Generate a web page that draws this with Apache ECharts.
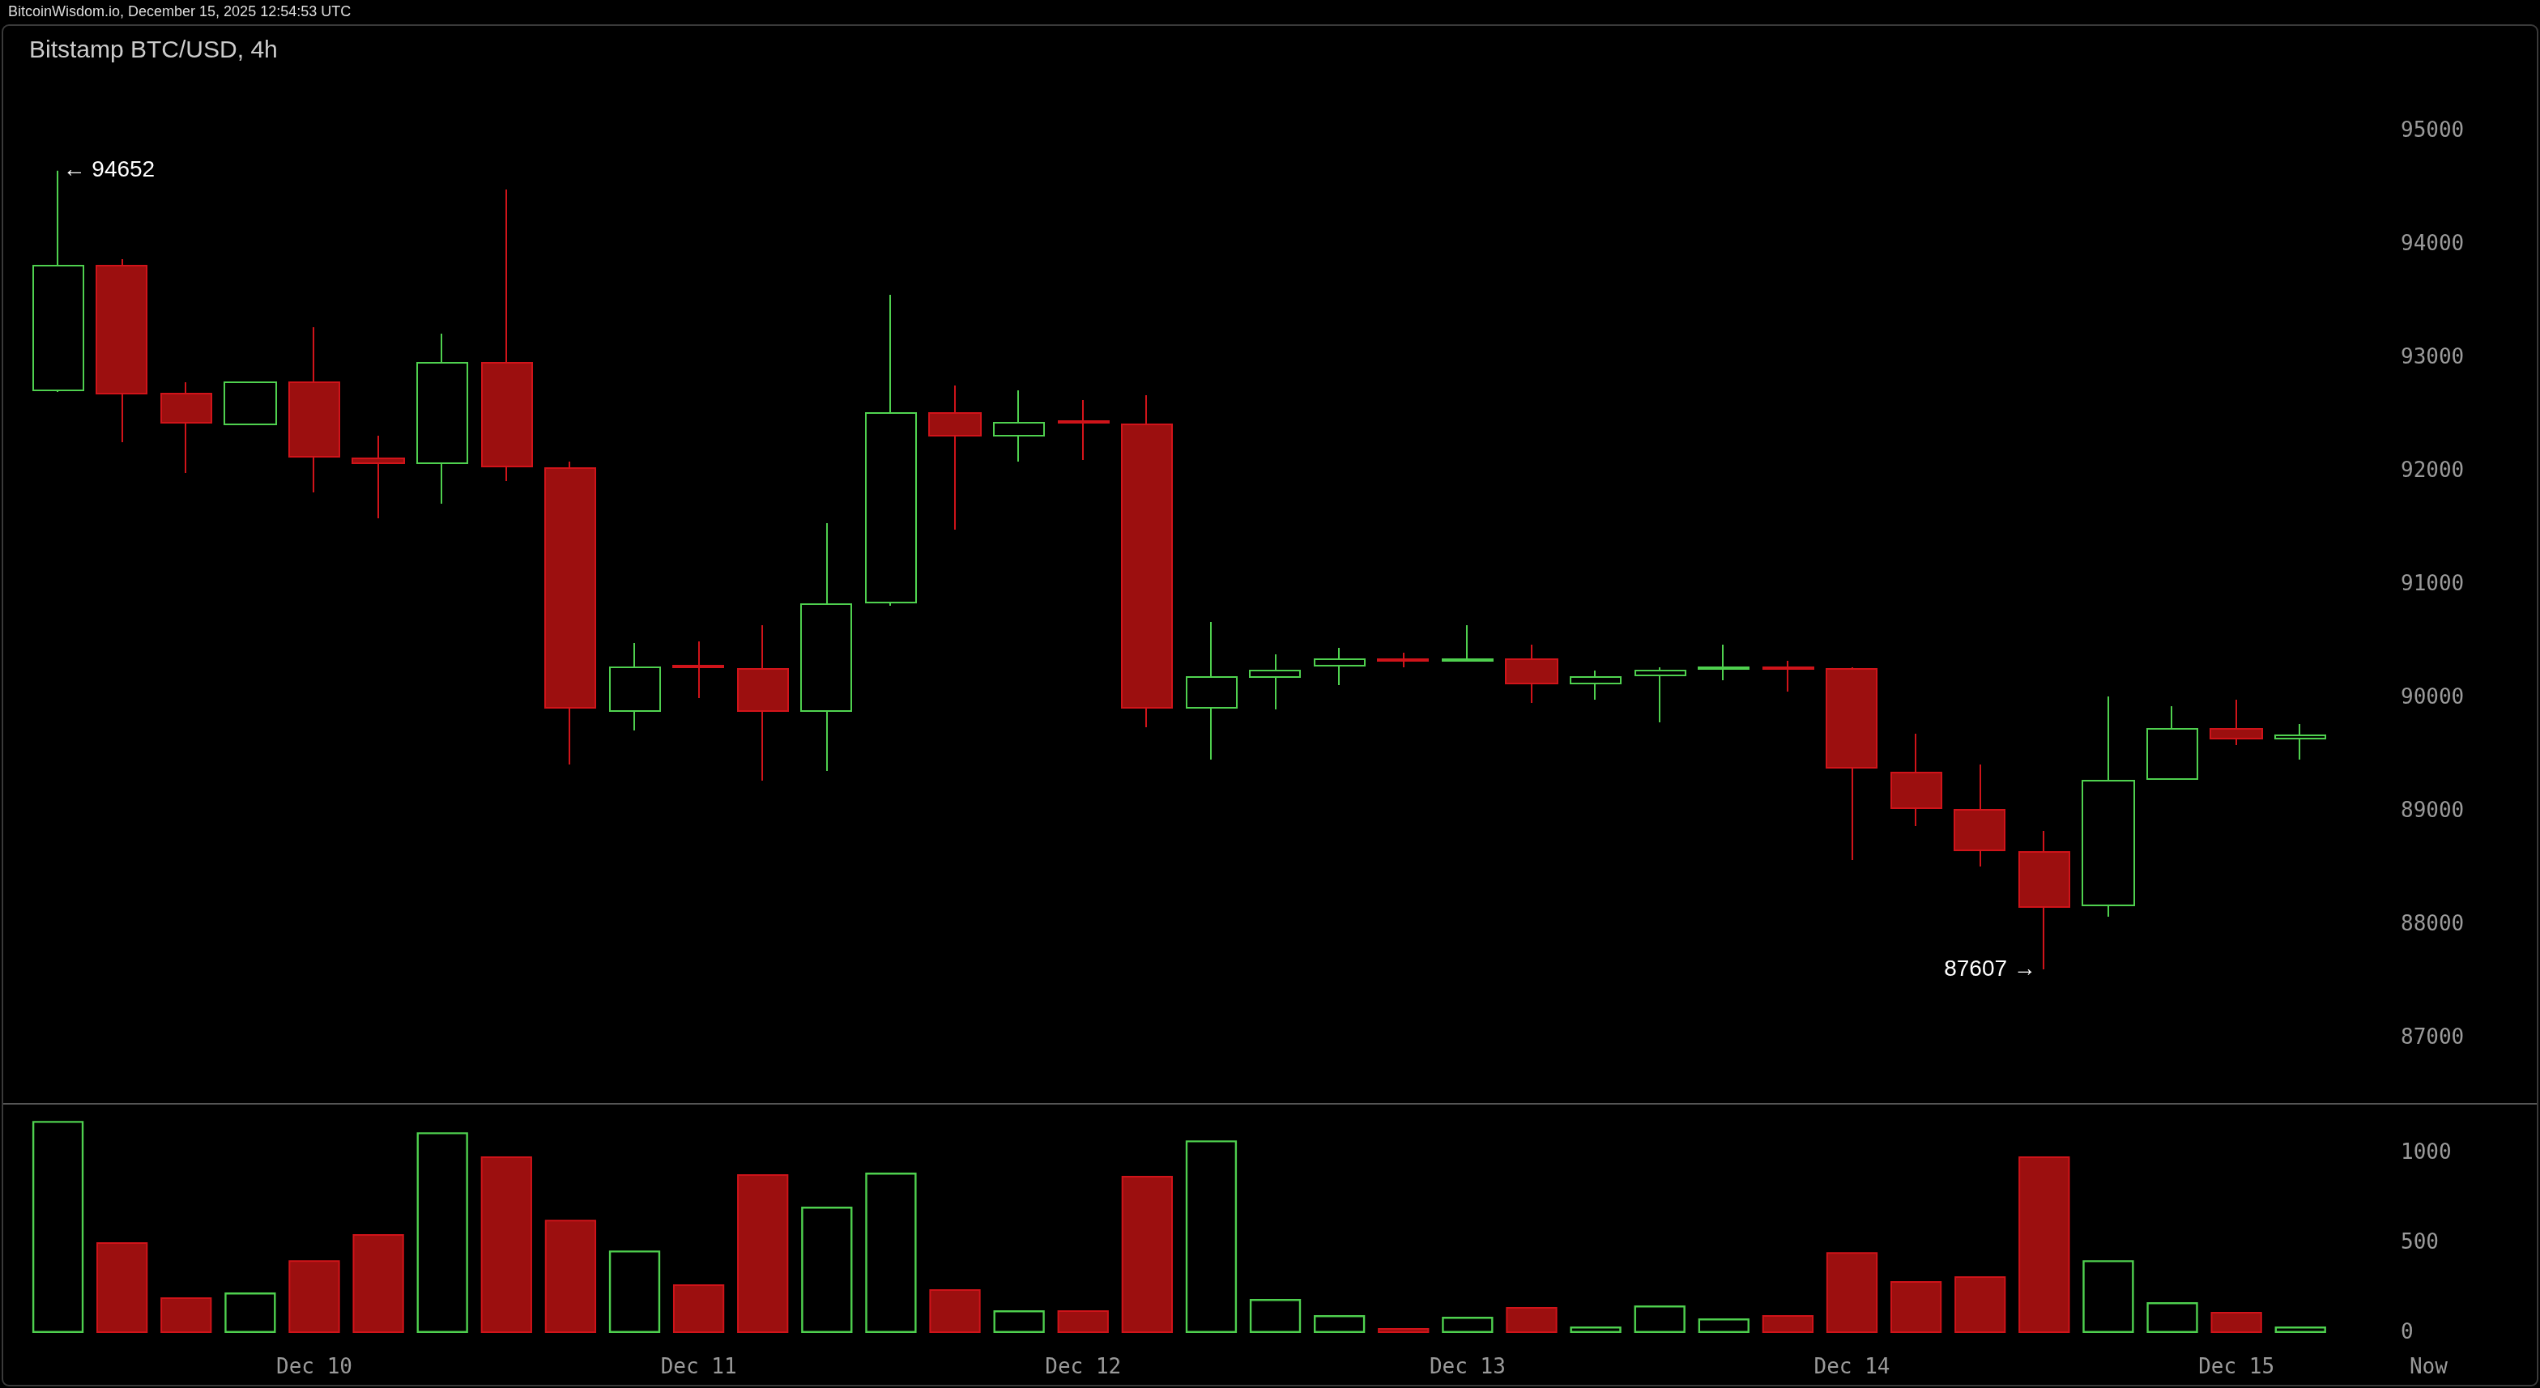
<!DOCTYPE html>
<html><head><meta charset="utf-8">
<script src="https://cdn.jsdelivr.net/npm/echarts@6/dist/echarts.min.js"></script>
<style>html,body{margin:0;background:#000}#wrap{width:2540px;height:1388px;overflow:hidden;position:relative}#c{position:absolute;left:0;top:0;width:1568px;height:857px;transform-origin:0 0}</style>
</head><body><div id="wrap"><div id="c"></div></div>
<script>
// OHLC per 4h candle
const opens  = [92714,93814,92686,92414,92786,92114,92071,92957,92029,89886,90286,90257,89886,90843,92514,92314,92443,92414,89914,90186,90286,90343,90329,90343,90129,90200,90257,90271,90257,89343,89014,88643,88171,89286,89729,89643];
const closes = [93814,92686,92429,92786,92129,92071,92957,92043,89914,90271,90271,89886,90829,92514,92314,92429,92429,89914,90186,90243,90343,90329,90343,90129,90186,90243,90271,90257,89386,89029,88657,88157,89271,89729,89643,89671];
const lows   = [92700,92257,91986,92414,91814,91586,91714,91914,89414,89714,90000,89271,89357,90814,91486,92086,92100,89743,89457,89900,90114,90271,90329,89957,89986,89786,90157,90057,88571,88871,88514,87607,88071,89286,89586,89457];
const highs  = [94652,93871,92786,92786,93271,92314,93214,94486,92086,90486,90500,90643,91543,93557,92757,92714,92629,92671,90671,90386,90443,90400,90643,90471,90243,90271,90471,90329,90271,89686,89414,88829,90014,89929,89986,89771];
const volumes= [1180,505,198,225,405,550,1117,982,630,459,270,883,703,892,243,126,126,874,1072,189,99,27,90,144,36,153,81,99,450,288,315,982,405,171,117,36];
const dayLabels = {4:'Dec 10',10:'Dec 11',16:'Dec 12',22:'Dec 13',28:'Dec 14',34:'Dec 15',37:'Now'};
const priceTicks = [87000,88000,89000,90000,91000,92000,93000,94000,95000];
const volTicks = [0,500,1000];

const N = 38;
const cats = Array.from({length:N},(_,i)=>String(i));
const GREEN='#4fd04f', RED='#9c0f0f', REDB='#d0141a';
const candle = opens.map((o,i)=>{
  const up = closes[i]>=o;
  return {value:[o,closes[i],lows[i],highs[i]], itemStyle: up?{color:'#000',borderColor:GREEN,color0:'#000',borderColor0:GREEN}:{color:RED,borderColor:REDB,color0:RED,borderColor0:REDB}};
});
const vol = volumes.map((v,i)=>{
  const up = closes[i]>opens[i] || (closes[i]===opens[i] && i===22);
  return {value:v,itemStyle: up?{color:'#000',borderColor:GREEN,borderWidth:1.2}:{color:RED,borderColor:REDB,borderWidth:1}};
});
const sx = 2540/1568, sy = 1388/857;
const el = document.getElementById('c');
el.style.transform='scale('+sx+','+sy+')';
const c2 = echarts.init(el,null,{width:1568,height:857,devicePixelRatio:2});
const lbl = {color:'#9a9a9a',fontFamily:'DejaVu Sans Mono',fontSize:13};
c2.setOption({
  backgroundColor:'#000',
  animation:false,
  grid:[{left:16,top:11,width:1503,height:700},{left:16,top:681,width:1503,height:142}],
  xAxis:[
    {type:'category',data:cats,gridIndex:0,axisLine:{show:false},axisTick:{show:false},axisLabel:{show:false},splitLine:{show:false}},
    {type:'category',data:cats,gridIndex:1,axisLine:{show:false},axisTick:{show:false},splitLine:{show:false},
     axisLabel:{...lbl,margin:15,interval:0,formatter:(v)=>dayLabels[+v]||''}}
  ],
  yAxis:[
    {type:'value',gridIndex:0,position:'right',offset:-37,min:86000,max:96000,interval:1000,splitLine:{show:false},axisLine:{show:false},axisTick:{show:false},
     axisLabel:{...lbl,margin:0,align:'left',formatter:v=>priceTicks.includes(v)?String(v):''}},
    {type:'value',gridIndex:1,position:'right',offset:-37,min:0,max:1280,interval:500,splitLine:{show:false},axisLine:{show:false},axisTick:{show:false},
     axisLabel:{...lbl,margin:0,align:'left',showMaxLabel:false,formatter:v=>volTicks.includes(v)?String(v):''}}
  ],
  graphic:[
    {type:'rect',shape:{x:1.5,y:15.5,width:1565,height:840,r:4},style:{fill:'none',stroke:'#3a3a3a',lineWidth:1}},
    {type:'line',shape:{x1:2,y1:681.5,x2:1566,y2:681.5},style:{stroke:'#555',lineWidth:1}},
    {type:'text',left:5,top:3,style:{text:'BitcoinWisdom.io, December 15, 2025 12:54:53 UTC',fill:'#ddd',font:'9px Liberation Sans'}},
    {type:'text',left:18,top:24,style:{text:'Bitstamp BTC/USD, 4h',fill:'#ccc',font:'15px Liberation Sans'}}
  ],
  series:[
    {type:'candlestick',xAxisIndex:0,yAxisIndex:0,data:candle,barWidth:'80%',
     markPoint:{symbol:'circle',symbolSize:0,data:[
       {coord:[0,94652],label:{show:true,position:'right',offset:[-2,0],formatter:'← 94652',color:'#fff',fontSize:14,fontFamily:'Liberation Sans'}},
       {coord:[31,87607],label:{show:true,position:'left',offset:[0,0],formatter:'87607 →',color:'#fff',fontSize:14,fontFamily:'Liberation Sans'}}
     ]}},
    {type:'bar',xAxisIndex:1,yAxisIndex:1,data:vol,barWidth:'80%'}
  ]
});
</script></body></html>
